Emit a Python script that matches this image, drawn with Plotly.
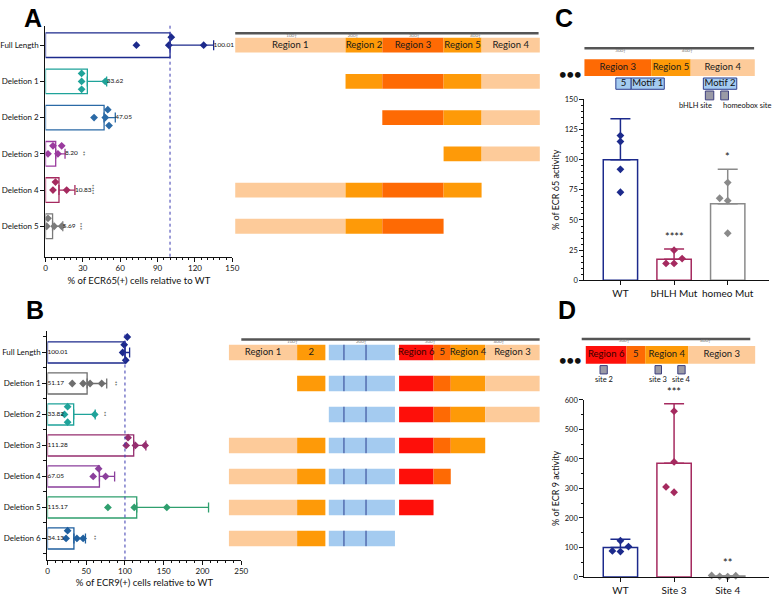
import plotly.graph_objects as go

W, H = 778, 596
def fx(p): return p / W
def fy(p): return 1 - p / H

FONT = "Lato, 'Open Sans', sans-serif"

# ---------------- Panel A data ----------------
A_names = ["Full Length", "Deletion 1", "Deletion 2", "Deletion 3", "Deletion 4", "Deletion 5"]
A_means = [100.01, 33.62, 47.05, 8.20, 10.83, 5.69]
A_err = [35.0, 15.5, 9.0, 7.5, 12.8, 8.2]
A_points = [[73, 99, 101, 127], [29, 29, 29, 48], [39, 48, 50, 51],
            [2, 6, 10, 13], [6, 8, 17], [1, 2, 7, 13]]
A_sig = ["", "", "", "**", "****", "***"]
A_colors = ["#1c2a8c", "#1fa39a", "#2b6aa6", "#9a3a9e", "#a52a5f", "#7a7a7a"]

A_regions = ["Region 1", "Region 2", "Region 3", "Region 5", "Region 4"]
A_bounds = [8, 188, 248, 348, 410, 505]
A_region_colors = ["#fdcb9a", "#fe9a08", "#fe6a04", "#fe9a08", "#fdcb9a"]
A_present = [[0, 1, 2, 3, 4], [1, 2, 3, 4], [2, 3, 4], [3, 4], [0, 1, 2, 3], [0, 1, 2]]
A_scale = [8, 503]
A_scale_ticks = [100, 200, 300, 400]

# ---------------- Panel B data ----------------
B_names = ["Full Length", "Deletion 1", "Deletion 2", "Deletion 3", "Deletion 4", "Deletion 5", "Deletion 6"]
B_means = [100.01, 51.17, 33.82, 111.28, 67.05, 115.17, 34.13]
B_err = [6.0, 25.3, 27.8, 15.7, 19.6, 92.7, 14.9]
B_points = [[97, 99, 101, 103], [32, 46, 55, 70], [22, 26, 26, 61], [101.6, 104, 113.5, 126],
            [59, 66, 75], [78, 112, 154], [24, 26, 38, 46]]
B_sig = ["", "**", "**", "", "", "", "**"]
B_colors = ["#1c2a8c", "#6e6e6e", "#1fa39a", "#952e6f", "#8b3f9c", "#2f9f6e", "#1f5f9e"]

B_regions = ["Region 1", "2", "", "Region 6", "5", "Region 4", "Region 3"]
B_starts = [8, 107, 153, 255, 305, 330, 380]
B_ends = [107, 148, 249, 305, 330, 380, 459]
B_region_colors = ["#fdcb9a", "#fe9a08", "#a4cbf0", "#fe0f0a", "#fe6a04", "#fe9a08", "#fdcb9a"]
B_blue_dividers = [175, 207]
B_present = [[0, 1, 2, 3, 4, 5, 6], [1, 2, 3, 4, 5, 6], [2, 3, 4, 5, 6], [0, 1, 2, 3, 4, 5],
             [0, 1, 2, 3, 4], [0, 1, 2, 3], [0, 1, 2]]
B_scale = [26, 459]
B_scale_ticks = [100, 200, 300, 400]

# ---------------- Panel C data ----------------
C_cats = ["WT", "bHLH Mut", "homeo Mut"]
C_means = [100, 17.5, 63.5]
C_err = [34, 8.5, 28.5]
C_points = [[120, 115, 92, 73], [25, 18, 14, 14], [81, 68, 66, 39]]
C_sig = ["", "****", "*"]
C_colors = ["#1c2a8c", "#a52a5f", "#8a8a8a"]

C_regions = ["Region 3", "Region 5", "Region 4"]
C_bounds = [246, 346, 405, 501]
C_region_colors = ["#fe6a04", "#fe9a08", "#fdcb9a"]
C_motifs = ["5", "Motif 1", "Motif 2"]
C_motif_starts = [293, 316, 424]
C_motif_ends = [316, 365.5, 474]
C_sites = ["bHLH site", "homeobox site"]
C_site_starts = [427, 450]
C_site_ends = [439.6, 461.6]
C_scale = [246, 500]
C_scale_ticks = [300, 400]

# ---------------- Panel D data ----------------
D_cats = ["WT", "Site 3", "Site 4"]
D_means = [100, 385, 3]
D_err = [28, 202, 0]
D_points = [[123, 103, 88, 86], [562, 390, 305, 287], [2, 5, 4, 1]]
D_sig = ["", "***", "**"]
D_colors = ["#1c2a8c", "#a52a5f", "#8a8a8a"]

D_regions = ["Region 6", "5", "Region 4", "Region 3"]
D_bounds = [253, 303, 326, 379, 461]
D_region_colors = ["#fe0f0a", "#fe6a04", "#fe9a08", "#fdcb9a"]
D_sites = ["site 2", "site 3", "site 4"]
D_site_starts = [270.5, 338, 366]
D_site_ends = [279.4, 346, 375]
D_scale = [248, 455]
D_scale_ticks = [300, 400]

WT_REF = 100

fig = go.Figure()


def swarm(vals, ppu, step, min_px=5.5):
    offs = [0.0] * len(vals)
    placed = []
    order = sorted(range(len(vals)), key=lambda k: vals[k])
    for i in order:
        for s in [0, -1, 1, -2, 2, -3, 3]:
            ok = all(s2 != s or abs(vals[i] - v) * ppu >= min_px for v, s2 in placed)
            if ok:
                offs[i] = s * step
                placed.append((vals[i], s))
                break
    return offs


def region_text_color(col):
    return "#3a0000" if col == "#fe0f0a" else "#1a1a1a"


def add_hbars(names, means, errs, points, colors, sig, xa, ya, ppu, step, inside, sig_shift):
    for i in range(len(names)):
        c = colors[i]
        fig.add_trace(go.Bar(orientation="h", x=[means[i]], y=[i], width=0.68,
                             marker=dict(color="rgba(255,255,255,0)", line=dict(color=c, width=1.3)),
                             error_x=dict(type="data", symmetric=False, array=[errs[i]], arrayminus=[0],
                                          color=c, thickness=1.3, width=5),
                             xaxis=xa, yaxis=ya, hoverinfo="skip", showlegend=False))
        offs = swarm(points[i], ppu, step)
        fig.add_trace(go.Scatter(x=points[i], y=[i + o for o in offs], mode="markers",
                                 marker=dict(symbol="diamond", size=6, color=c),
                                 xaxis=xa, yaxis=ya, hoverinfo="skip", showlegend=False))
        lx = 0 if inside else means[i] + errs[i]
        fig.add_trace(go.Scatter(x=[lx], y=[i], mode="text", text=[f"{means[i]:.2f}"],
                                 textposition="middle right",
                                 textfont=dict(size=6.5, color="#111", family=FONT),
                                 xaxis=xa, yaxis=ya, hoverinfo="skip", showlegend=False, cliponaxis=False))
        if sig[i]:
            fig.add_annotation(x=means[i] + errs[i], y=i, xref=xa, yref=ya, text=sig[i],
                               textangle=90, showarrow=False, xshift=sig_shift,
                               xanchor="center", yanchor="middle",
                               font=dict(size=6, color="#111", family=FONT))


def add_segments(starts, ends, colors, row, height, xa, ya, labels=None, size=9.5):
    for k in range(len(starts)):
        fig.add_trace(go.Bar(orientation="h", base=[starts[k]], x=[ends[k] - starts[k]], y=[row],
                             width=height, marker=dict(color=colors[k], line=dict(width=0)),
                             xaxis=xa, yaxis=ya, hoverinfo="skip", showlegend=False))
        if labels and labels[k]:
            fig.add_trace(go.Scatter(x=[(starts[k] + ends[k]) / 2], y=[row], mode="text",
                                     text=[labels[k]], textposition="middle center",
                                     textfont=dict(size=size, color=region_text_color(colors[k]), family=FONT),
                                     xaxis=xa, yaxis=ya, hoverinfo="skip", showlegend=False,
                                     cliponaxis=False))


def add_scale(extent, ticks, row, xa, ya):
    fig.add_trace(go.Scatter(x=extent, y=[row, row], mode="lines",
                             line=dict(color="#555555", width=2.5),
                             xaxis=xa, yaxis=ya, hoverinfo="skip", showlegend=False, cliponaxis=False))
    fig.add_trace(go.Scatter(x=ticks, y=[row] * len(ticks), mode="text",
                             text=[f"{t}\u2020" for t in ticks], textposition="bottom center",
                             textfont=dict(size=4.5, color="#777", family=FONT),
                             xaxis=xa, yaxis=ya, hoverinfo="skip", showlegend=False, cliponaxis=False))


def add_vbars(cats, means, errs, points, colors, sig, xa, ya, ppu, step):
    for i in range(len(cats)):
        c = colors[i]
        fig.add_trace(go.Bar(x=[i], y=[means[i]], width=0.64,
                             marker=dict(color="rgba(255,255,255,0)", line=dict(color=c, width=1.5)),
                             error_y=dict(type="data", symmetric=False, array=[errs[i]], arrayminus=[0],
                                          color=c, thickness=1.5, width=10),
                             xaxis=xa, yaxis=ya, hoverinfo="skip", showlegend=False))
        offs = swarm(points[i], ppu, step)
        fig.add_trace(go.Scatter(x=[i + o for o in offs], y=points[i], mode="markers",
                                 marker=dict(symbol="diamond", size=6, color=c),
                                 xaxis=xa, yaxis=ya, hoverinfo="skip", showlegend=False, cliponaxis=False))
        if sig[i]:
            top = max(means[i] + errs[i], max(points[i]))
            fig.add_annotation(x=i, y=top, xref=xa, yref=ya, text=sig[i], showarrow=False,
                               xanchor="center", yanchor="bottom", yshift=4,
                               font=dict(size=11, color="#111", family=FONT))


# ---- Panel A ----
add_hbars(A_names, A_means, A_err, A_points, A_colors, A_sig, "x", "y", 189 / 150, 0.22, False, 18)
for r, present in enumerate(A_present):
    add_segments([A_bounds[k] for k in present], [A_bounds[k + 1] for k in present],
                 [A_region_colors[k] for k in present], r, 0.41, "x2", "y",
                 labels=[A_regions[k] for k in present] if r == 0 else None)
add_scale(A_scale, A_scale_ticks, -0.33, "x2", "y")

# ---- Panel B ----
add_hbars(B_names, B_means, B_err, B_points, B_colors, B_sig, "x3", "y3", 196 / 250, 0.25, True, 9)
for r, present in enumerate(B_present):
    add_segments([B_starts[k] for k in present], [B_ends[k] for k in present],
                 [B_region_colors[k] for k in present], r, 0.5, "x4", "y3",
                 labels=[B_regions[k] for k in present] if r == 0 else None)
    if 2 in present:
        xs, ys = [], []
        for d in B_blue_dividers:
            xs += [d, d, None]
            ys += [r - 0.25, r + 0.25, None]
        fig.add_trace(go.Scatter(x=xs, y=ys, mode="lines", line=dict(color="#2d3f8f", width=1),
                                 xaxis="x4", yaxis="y3", hoverinfo="skip", showlegend=False))
add_scale(B_scale, B_scale_ticks, -0.42, "x4", "y3")

# ---- Panel C diagram (y in pixel-like units) ----
add_scale(C_scale, C_scale_ticks, 45, "x5", "y5")
add_segments(C_bounds[:-1], C_bounds[1:], C_region_colors, 64.7, 17, "x5", "y5", labels=C_regions)
for k in range(len(C_motifs)):
    fig.add_trace(go.Bar(orientation="h", base=[C_motif_starts[k]], x=[C_motif_ends[k] - C_motif_starts[k]],
                         y=[81], width=11.5, marker=dict(color="#a4cbf0", line=dict(color="#2d3f8f", width=1)),
                         xaxis="x5", yaxis="y5", hoverinfo="skip", showlegend=False))
    fig.add_trace(go.Scatter(x=[(C_motif_starts[k] + C_motif_ends[k]) / 2], y=[81], mode="text",
                             text=[C_motifs[k]], textfont=dict(size=9.5, color="#111", family=FONT),
                             xaxis="x5", yaxis="y5", hoverinfo="skip", showlegend=False, cliponaxis=False))
for k in range(len(C_sites)):
    fig.add_trace(go.Bar(orientation="h", base=[C_site_starts[k]], x=[C_site_ends[k] - C_site_starts[k]],
                         y=[93], width=9, marker=dict(color="#9a9aa6", line=dict(color="#3d3f7f", width=1)),
                         xaxis="x5", yaxis="y5", hoverinfo="skip", showlegend=False))
    if k == 0:
        fig.add_annotation(x=C_site_ends[k], y=103, xref="x5", yref="y5", text=C_sites[k], showarrow=False,
                           xanchor="right", yanchor="middle", font=dict(size=7.5, color="#111", family=FONT))
    else:
        fig.add_annotation(x=C_site_starts[k], y=103, xref="x5", yref="y5", text=C_sites[k], showarrow=False,
                           xanchor="left", yanchor="middle", font=dict(size=7.5, color="#111", family=FONT))

# ---- Panel C bars ----
add_vbars(C_cats, C_means, C_err, C_points, C_colors, C_sig, "x6", "y6", 184 / 150, 0.15)

# ---- Panel D diagram ----
add_scale(D_scale, D_scale_ticks, 340.7, "x7", "y7")
add_segments(D_bounds[:-1], D_bounds[1:], D_region_colors, 356.8, 18, "x7", "y7", labels=D_regions)
for k in range(len(D_sites)):
    fig.add_trace(go.Bar(orientation="h", base=[D_site_starts[k]], x=[D_site_ends[k] - D_site_starts[k]],
                         y=[372], width=8.5, marker=dict(color="#9a9aa6", line=dict(color="#3d3f7f", width=1)),
                         xaxis="x7", yaxis="y7", hoverinfo="skip", showlegend=False))
    fig.add_annotation(x=(D_site_starts[k] + D_site_ends[k]) / 2, y=382, xref="x7", yref="y7",
                       text=D_sites[k], showarrow=False, xanchor="center", yanchor="middle",
                       font=dict(size=7.5, color="#111", family=FONT))

# ---- Panel D bars ----
add_vbars(D_cats, D_means, D_err, D_points, D_colors, D_sig, "x8", "y8", 180 / 600, 0.15)

# reference lines at WT level
for xa, ya in [("x", "y"), ("x3", "y3")]:
    fig.add_shape(type="line", xref=xa, yref=f"{ya} domain", x0=WT_REF, x1=WT_REF, y0=0, y1=1,
                  line=dict(color="#3a3ab0", width=1, dash="dot"))

# ellipsis dots and panel letters
for yy in [71, 362]:
    fig.add_annotation(x=fx(575), y=fy(yy), xref="paper", yref="paper", text="<b>\u2022\u2022\u2022</b>",
                       xanchor="center", yanchor="middle",
                       showarrow=False, font=dict(size=13, color="#111"))
for letter, (px, py) in zip(["A", "B", "C", "D"], [(31, 14), (33, 311), (569, 14), (572, 311)]):
    fig.add_annotation(x=fx(px), y=fy(py), xref="paper", yref="paper", text=f"<b>{letter}</b>",
                       xanchor="center", yanchor="middle",
                       showarrow=False, font=dict(size=25, color="#000", family="Liberation Sans, Arial"))

axis_common = dict(showline=True, linecolor="#111", linewidth=1.4, ticks="outside", tickcolor="#111",
                   tickwidth=1.2, showgrid=False, zeroline=False,
                   tickfont=dict(size=8, color="#111", family=FONT))
hidden = dict(visible=False, showgrid=False, zeroline=False)

fig.update_layout(
    width=W, height=H, margin=dict(l=0, r=0, t=0, b=0), autosize=False,
    paper_bgcolor="white", plot_bgcolor="rgba(0,0,0,0)", barmode="overlay", showlegend=False,
    font=dict(family=FONT, color="#111"),
    xaxis=dict(domain=[fx(44), fx(233)], range=[0, 150], dtick=30, ticklen=4, anchor="y",
               minor=dict(dtick=5, ticks="outside", ticklen=2.5, tickcolor="#111"),
               title=dict(text="% of ECR65(+) cells relative to WT", font=dict(size=9.5, family=FONT), standoff=4),
               **axis_common),
    yaxis=dict(domain=[fy(257), fy(22)], range=[5.84, -0.54], tickmode="array",
               tickvals=list(range(len(A_names))), ticktext=A_names, ticklen=4, anchor="x",
               **axis_common),
    xaxis2=dict(domain=[fx(231), fx(231 + 520 * 0.62)], range=[0, 520], anchor="y", **hidden),
    xaxis3=dict(domain=[fx(46), fx(242)], range=[0, 250], dtick=50, ticklen=4, anchor="y3",
                minor=dict(dtick=10, ticks="outside", ticklen=2.5, tickcolor="#111"),
                title=dict(text="% of ECR9(+) cells relative to WT", font=dict(size=9.5, family=FONT), standoff=4),
                **axis_common),
    yaxis3=dict(domain=[fy(565), fy(333)], range=[6.68, -0.68], tickmode="array",
                tickvals=list(range(len(B_names))), ticktext=B_names, ticklen=4, anchor="x3",
                minor=dict(tickmode="array", tickvals=[k - 0.5 for k in range(len(B_names) + 1)],
                           ticks="outside", ticklen=3, tickcolor="#111"),
                **axis_common),
    xaxis4=dict(domain=[fx(224), fx(224 + 465 * 0.697)], range=[0, 465], anchor="y3", **hidden),
    xaxis5=dict(domain=[fx(585.2), fx(764.3)], range=[240, 505], anchor="y5", **hidden),
    yaxis5=dict(domain=[fy(110), fy(38)], range=[110, 38], anchor="x5", **hidden),
    xaxis6=dict(domain=[fx(589.3), fx(776)], range=[-0.67, 2.77], tickmode="array", tickvals=[0, 1, 2],
                ticktext=C_cats, ticklen=4, anchor="y6",
                **{**axis_common, "tickfont": dict(size=10, color="#111", family=FONT)}),
    yaxis6=dict(domain=[fy(281), fy(97)], range=[0, 150], dtick=25, ticklen=4, anchor="x6",
                minor=dict(dtick=5, ticks="outside", ticklen=2, tickcolor="#111"),
                title=dict(text="% of ECR 65 activity", font=dict(size=9, family=FONT), standoff=3),
                **{**axis_common, "tickfont": dict(size=7.5, color="#111", family=FONT)}),
    xaxis7=dict(domain=[fx(579.9), fx(769.4)], range=[240, 470], anchor="y7", **hidden),
    yaxis7=dict(domain=[fy(392), fy(332)], range=[392, 332], anchor="x7", **hidden),
    xaxis8=dict(domain=[fx(589.3), fx(776)], range=[-0.67, 2.77], tickmode="array", tickvals=[0, 1, 2],
                ticktext=D_cats, ticklen=4, anchor="y8",
                **{**axis_common, "tickfont": dict(size=10, color="#111", family=FONT)}),
    yaxis8=dict(domain=[fy(582.7), fy(402.7)], range=[0, 600], dtick=100, ticklen=4, anchor="x8",
                minor=dict(dtick=50, ticks="outside", ticklen=2, tickcolor="#111"),
                title=dict(text="% of ECR 9 activity", font=dict(size=9, family=FONT), standoff=3),
                **{**axis_common, "tickfont": dict(size=7.5, color="#111", family=FONT)}),
)

fig.write_html("out.html", config={"displayModeBar": False},
               post_script="document.body.style.margin='0';document.body.style.overflow='hidden';")
